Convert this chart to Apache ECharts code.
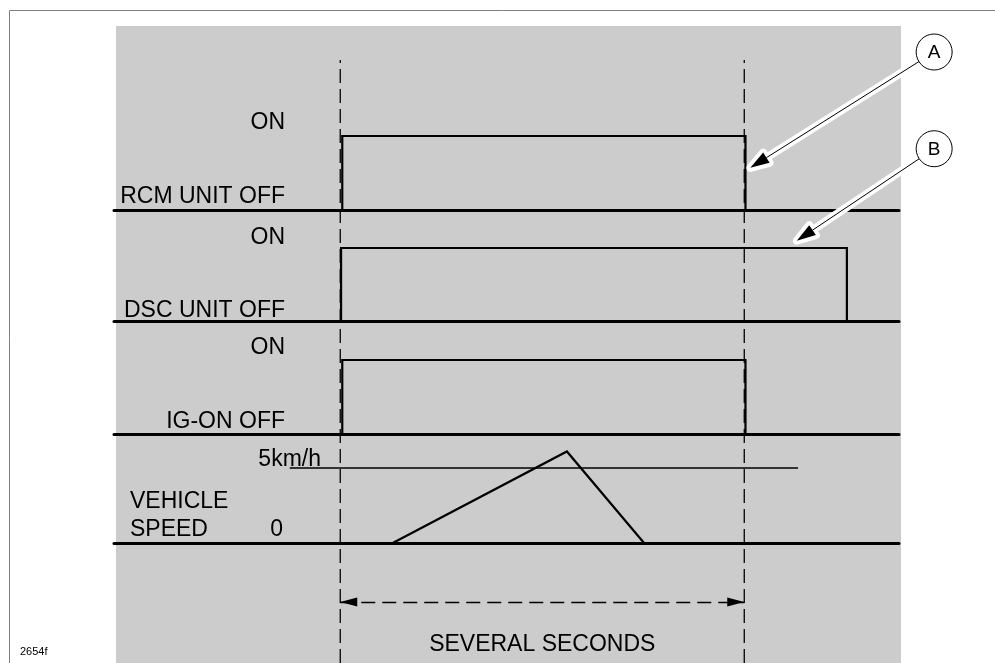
<!DOCTYPE html>
<html><head><meta charset="utf-8">
<script src="https://cdn.jsdelivr.net/npm/echarts@6/dist/echarts.min.js"></script>
<style>html,body{margin:0;padding:0;background:#fff}#c{width:995px;height:663px}</style>
</head><body><div id="c"></div>
<script>
// ---------------- data ----------------
const signalNames = ['RCM UNIT', 'DSC UNIT', 'IG-ON'];
const levelLabels = ['OFF', 'ON'];
const rcmEdges = [0.05, 10.03];      // time of switch ON, switch OFF
const dscEdges = [0.02, 12.54];
const igEdges  = [0.05, 10.03];
const speedTimes  = [1.30, 5.61, 7.52];
const speedValues = [0, 6.1, 0];      // km/h
const speedRefValue = 5;              // 5 km/h threshold
const speedRefSpan = [-1.25, 11.33];
const speedTickLabels = ['0', '5km/h'];
const markerTimes = [0, 10];          // start / end of "several seconds"
const durationLabel = 'SEVERAL SECONDS';
const speedTitle = 'VEHICLE\nSPEED';
const figureId = '2654f';
const calloutLetters = ['A', 'B'];

// ---------------- layout / style ----------------
const FONT = "'Liberation Sans', Arial, Helvetica, sans-serif";
const X_MIN = -5.6, X_MAX = 13.83;
const grids = [
  {left:114, width:785, top:136, height:74},
  {left:114, width:785, top:248, height:73},
  {left:114, width:785, top:360, height:74},
  {left:114, width:785, top:450, height:93},
  {left:114, width:785, top:60,  height:603}
];
const signalLabelLift = [26, 21, 25];   // label line heights per panel
function stepPoints(edges){
  return [[edges[0], 0], [edges[0], 1], [edges[1], 1], [edges[1], 0]];
}
const signalEdges = [rcmEdges, dscEdges, igEdges];

const xAxes = grids.map((g, i) => ({
  type:'value', gridIndex:i, min:X_MIN, max:X_MAX,
  show: i < 4,
  axisLine:{show:true, onZero:false, lineStyle:{color:'#000', width:3}},
  axisTick:{show:false}, axisLabel:{show:false}, splitLine:{show:false}
}));

const labelBase = {margin:0, fontSize:23, fontFamily:FONT, color:'#000', verticalAlign:'bottom', align:'right'};
const hidden = {position:'left', axisLine:{show:false}, axisTick:{show:false}, splitLine:{show:false}};
const yAxes = [];
signalNames.forEach((name, i) => {
  yAxes.push(Object.assign({
    type:'value', gridIndex:i, min:0, max:1, interval:1, offset:-171,
    axisLabel:Object.assign({}, labelBase, {lineHeight:signalLabelLift[i],
      formatter: v => v === 1 ? levelLabels[1] : name + ' ' + levelLabels[0]})
  }, hidden));
});
yAxes.push(Object.assign({
  type:'value', gridIndex:3, min:0, max:6.2, interval:speedRefValue, offset:-207,
  axisLabel:Object.assign({}, labelBase, {lineHeight:17,
    formatter: v => v === speedRefValue ? speedTickLabels[1] : ''})
}, hidden));
yAxes.push(Object.assign({
  type:'value', gridIndex:3, min:0, max:6.2, interval:speedRefValue, offset:-169,
  axisLabel:Object.assign({}, labelBase, {lineHeight:27,
    formatter: v => v === 0 ? speedTickLabels[0] : ''})
}, hidden));
yAxes.push(Object.assign({type:'value', gridIndex:4, min:0, max:1, show:false}, hidden));
const OVERLAY_Y = yAxes.length - 1;

const series = [];
signalEdges.forEach((e, i) => {
  series.push({type:'line', xAxisIndex:i, yAxisIndex:i, data:stepPoints(e), showSymbol:false, symbol:'none',
    lineStyle:{color:'#000', width:2.2, join:'miter', cap:'butt'}, silent:true});
});
series.push({type:'line', xAxisIndex:3, yAxisIndex:3,
  data: speedTimes.map((t, k) => [t, speedValues[k]]), symbol:'none',
  lineStyle:{color:'#000', width:2.2, join:'miter'}, silent:true});
series.push({type:'line', xAxisIndex:3, yAxisIndex:3,
  data: speedRefSpan.map(t => [t, speedRefValue]), symbol:'none',
  lineStyle:{color:'#000', width:1.4}, silent:true});
markerTimes.forEach((t, k) => {
  const s = {type:'line', xAxisIndex:4, yAxisIndex:OVERLAY_Y, data:[[t,0],[t,1]], symbol:'none',
    lineStyle:{color:'#000', width:1.3, type:[14,6]}, silent:true};
  if (k === 0) {
    s.markLine = {
      silent:true, animation:false,
      symbol:['triangle','triangle'], symbolSize:[9,17], symbolOffset:[[0,8.5],[0,8.5]],
      lineStyle:{color:'#000', width:1.3, type:[14,7]},
      label:{show:true, position:'insideMiddleBottom', distance:31, formatter:durationLabel,
        fontSize:23, fontFamily:FONT, color:'#000'},
      data:[[{coord:[markerTimes[0], 0.101]}, {coord:[markerTimes[1], 0.101]}]]
    };
  }
  series.push(s);
});

const chart = echarts.init(document.getElementById('c'), null, {renderer:'canvas'});
chart.setOption({
  animation:false,
  backgroundColor:'#fff',
  title:[
    {text:speedTitle, left:130, top:488, padding:0,
      textStyle:{fontSize:23, lineHeight:28, fontWeight:'normal', color:'#000', fontFamily:FONT}},
    {text:figureId, left:20, top:646, padding:0,
      textStyle:{fontSize:11, lineHeight:12, fontWeight:'normal', color:'#000', fontFamily:FONT}}
  ],
  grid:grids,
  xAxis:xAxes,
  yAxis:yAxes,
  series:series
});

// ---------------- callouts (A, B) ----------------
const calloutLayout = [
  {grid:0, circle:[14.70, 2.135], tip:[rcmEdges[1] + 0.12, 0.57]},
  {grid:1, circle:[14.70, 2.36],  tip:[11.30, 1.10]}
];
const elements = [
  {type:'rect', z:-100, silent:true, shape:{x:116, y:26, width:785, height:660}, style:{fill:'#cccccc'}},
  {type:'rect', z:-99, silent:true, shape:{x:9.5, y:10.5, width:1000, height:700}, style:{fill:'none', stroke:'#808080', lineWidth:1}}
];
calloutLayout.forEach((c, k) => {
  const cp = chart.convertToPixel({gridIndex:c.grid}, c.circle);
  const tp = chart.convertToPixel({gridIndex:c.grid}, c.tip);
  const dx = tp[0]-cp[0], dy = tp[1]-cp[1], L = Math.hypot(dx, dy);
  const ux = dx/L, uy = dy/L, nx = -uy, ny = ux;
  const r = 18, hl = 19, hw = 6;
  const s = [cp[0]+ux*r, cp[1]+uy*r];
  const b = [tp[0]-ux*hl, tp[1]-uy*hl];
  const head = [tp, [b[0]+nx*hw, b[1]+ny*hw], [b[0]-nx*hw, b[1]-ny*hw]];
  elements.push(
    {type:'line', z:50, silent:true, shape:{x1:s[0], y1:s[1], x2:b[0], y2:b[1]}, style:{stroke:'#fff', lineWidth:8, lineCap:'round'}},
    {type:'polygon', z:50, silent:true, shape:{points:head}, style:{fill:'#fff', stroke:'#fff', lineWidth:8, lineJoin:'round'}},
    {type:'line', z:51, silent:true, shape:{x1:s[0], y1:s[1], x2:b[0], y2:b[1]}, style:{stroke:'#000', lineWidth:1}},
    {type:'polygon', z:51, silent:true, shape:{points:head}, style:{fill:'#000'}},
    {type:'circle', z:52, silent:true, shape:{cx:cp[0], cy:cp[1], r:r}, style:{fill:'#fff', stroke:'#000', lineWidth:1}},
    {type:'text', z:53, silent:true, x:cp[0], y:cp[1]+1, style:{text:calloutLetters[k], fontSize:19, fontFamily:FONT, fill:'#000', align:'center', verticalAlign:'middle'}}
  );
});
chart.setOption({graphic:{elements:elements}});
</script>
</body></html>
